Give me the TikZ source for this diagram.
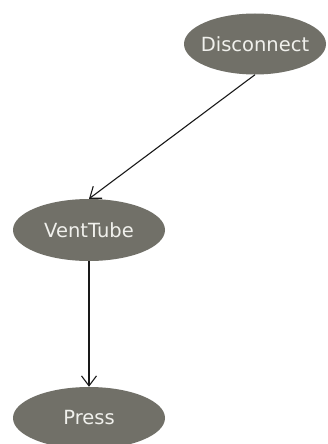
\documentclass[tikz,border=0pt]{standalone}
\usepackage{fontspec}
\setmainfont{DejaVu Sans}
\usetikzlibrary{arrows.meta,shapes.geometric}
\definecolor{nodefill}{RGB}{113,112,104}
\definecolor{nodetext}{RGB}{240,240,236}
\newcommand{\evlabel}[1]{\makebox[0pt][c]{#1}}
\tikzset{
  evnode/.style={ellipse, fill=nodefill, text=nodetext, inner sep=0pt,
    font=\fontsize{19.5}{22}\selectfont},
  link/.style={draw=black!90, line width=1.1pt, -{Straight Barb[length=10pt, width=15pt, line width=1.1pt]}}
}
\begin{document}
\begin{tikzpicture}[x=1pt, y=-1pt]
\useasboundingbox (0,0) rectangle (328,444);
\fill[white] (0,0) rectangle (328,444);
\node[evnode, minimum width=142pt, minimum height=61pt] (dis) at (255,44) {\evlabel{Disconnect}};
\node[evnode, minimum width=152pt, minimum height=62pt] (vent) at (89,230) {\evlabel{VentTube}};
\node[evnode, minimum width=152pt, minimum height=62pt] (press) at (89,418) {\evlabel{Press}};
\draw[link] (dis.south) -- (vent.north);
\draw[link] (vent) -- (press);
\end{tikzpicture}
\end{document}
